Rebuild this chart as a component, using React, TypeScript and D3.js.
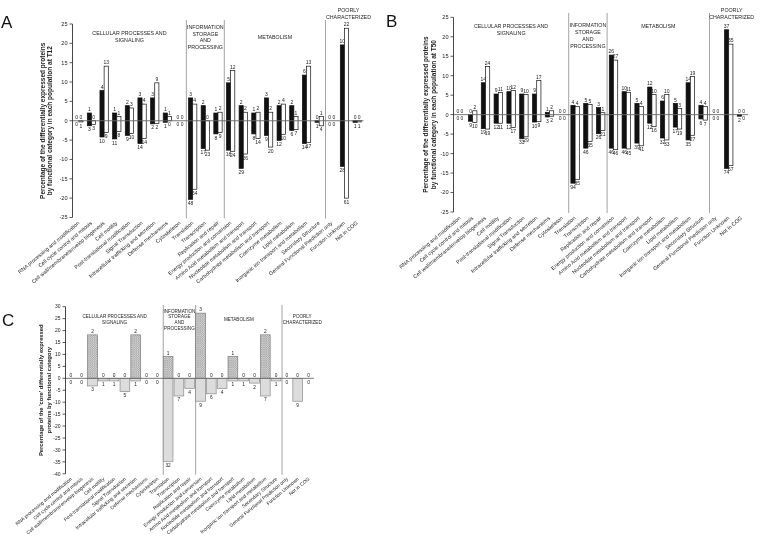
import React from 'react';
import * as d3 from 'd3';

const FONT = "'Liberation Sans', Arial, Helvetica, sans-serif";

const categories = [
  'RNA processing and modification',
  'Cell cycle control and mitosis',
  'Cell wall/membrane/envelop biogenesis',
  'Cell motility',
  'Post-translational modification',
  'Signal Transduction',
  'Intracellular trafficking and secretion',
  'Defense mechanisms',
  'Cytoskeleton',
  'Translation',
  'Transcription',
  'Replication and repair',
  'Energy production and conversion',
  'Amino Acid metabolism and transport',
  'Nucleotide metabolism and transport',
  'Carbohydrate metabolism and transport',
  'Coenzyme metabolism',
  'Lipid metabolism',
  'Inorganic ion transport and metabolism',
  'Secondary Structure',
  'General Functional Prediction only',
  'Function Unknown',
  'Not in COG',
];

const groupNames = [
  ['CELLULAR PROCESSES AND', 'SIGNALING'],
  ['INFORMATION', 'STORAGE', 'AND', 'PROCESSING'],
  ['METABOLISM'],
  ['POORLY', 'CHARACTERIZED'],
];
const groupStarts = [0, 9, 12, 20];
const groupEnds = [8, 11, 19, 22];

const yTicksAB = [25, 20, 15, 10, 5, 0, -5, -10, -15, -20, -25];
const yTicksC = [30, 25, 20, 15, 10, 5, 0, -5, -10, -15, -20, -25, -30, -35, -40];

// Panel A (T12) – percentages and counts
const aBlackUp = [0, 2.0, 7.8, 2.0, 3.9, 5.9, 5.9, 2.0, 0, 5.9, 3.9, 2.0, 9.8, 3.9, 2.0, 5.9, 3.9, 3.9, 11.8, 0, 0, 19.6, 0];
const aWhiteUp = [0, 0, 14.1, 1.1, 3.3, 4.3, 9.8, 1.1, 0, 4.3, 0, 2.2, 13.0, 2.2, 2.2, 2.2, 4.3, 1.1, 14.1, 1.1, 0, 23.9, 0];
const aBlackDown = [0, -1.3, -4.2, -4.7, -3.8, -5.9, -0.8, -0.4, 0, -20.3, -7.2, -3.4, -7.6, -12.3, -3.4, -3.8, -5.1, -2.5, -5.9, -0.4, 0, -11.8, -0.4];
const aWhiteDown = [-0.3, -1.0, -3.0, -2.8, -3.3, -4.6, -0.7, 0, 0, -17.7, -7.6, -3.0, -7.9, -8.6, -4.6, -6.8, -3.5, -2.3, -5.6, -1.3, 0, -20.0, -0.3];
const aBlackUpN = [0, 1, 4, 1, 2, 3, 3, 1, 0, 3, 2, 1, 5, 2, 1, 3, 2, 2, 6, 0, 0, 10, 0];
const aWhiteUpN = [0, 0, 13, 1, 3, 4, 9, 1, 0, 4, 0, 2, 12, 2, 2, 2, 4, 1, 13, 1, 0, 22, 0];
const aBlackDownN = [0, 3, 10, 11, 9, 14, 2, 1, 0, 48, 17, 8, 18, 29, 8, 9, 12, 6, 14, 1, 0, 28, 1];
const aWhiteDownN = [1, 3, 9, 8, 10, 14, 2, 0, 0, 54, 23, 9, 24, 26, 14, 20, 10, 7, 17, 4, 0, 61, 1];

// Panel B (T50)
const bBlackUp = [0, 0, 8.2, 5.3, 5.9, 5.3, 5.3, 0.6, 0, 2.4, 2.9, 1.8, 15.3, 5.9, 2.9, 7.1, 3.5, 2.9, 8.2, 2.4, 0, 21.8, 0];
const bWhiteUp = [0, 1.0, 12.4, 5.7, 6.2, 5.2, 8.8, 1.0, 0, 2.1, 2.6, 0.5, 14.0, 5.7, 2.1, 5.2, 5.2, 1.6, 9.8, 2.1, 0, 18.1, 0];
const bBlackDown = [0, -1.7, -3.6, -2.2, -2.2, -6.2, -1.9, -0.6, 0, -17.6, -8.6, -4.9, -8.6, -8.6, -7.3, -2.2, -6.0, -3.2, -6.5, -1.1, 0, -13.8, -0.4];
const bWhiteDown = [0, -2.0, -3.7, -2.2, -3.3, -5.7, -1.8, -0.4, 0, -16.7, -6.9, -4.1, -9.0, -8.8, -8.0, -3.1, -6.5, -3.7, -5.3, -1.4, 0, -13.1, 0];
const bBlackUpN = [0, 0, 14, 9, 10, 9, 9, 1, 0, 4, 5, 3, 26, 10, 5, 12, 6, 5, 14, 4, 0, 37, 0];
const bWhiteUpN = [0, 2, 24, 11, 12, 10, 17, 2, 0, 4, 5, 1, 27, 11, 4, 10, 10, 3, 19, 4, 0, 35, 0];
const bBlackDownN = [0, 9, 19, 12, 12, 33, 10, 3, 0, 94, 46, 26, 46, 46, 39, 12, 32, 17, 35, 6, 0, 74, 2];
const bWhiteDownN = [0, 10, 19, 11, 17, 29, 9, 2, 0, 85, 35, 21, 46, 45, 41, 16, 33, 19, 27, 7, 0, 67, 0];

// Panel C (core)
const cUp = [0, 0, 18.2, 0, 0, 0, 18.2, 0, 0, 9.1, 0, 0, 27.3, 0, 0, 9.1, 0, 0, 18.2, 0, 0, 0, 0];
const cDown = [0, 0, -3.2, -1.1, -1.1, -5.5, -1.1, 0, 0, -34.8, -7.4, -4.2, -9.6, -6.5, -4.2, -1.1, -1.1, -2.0, -7.4, -1.1, 0, -9.6, 0];
const cUpN = [0, 0, 2, 0, 0, 0, 2, 0, 0, 1, 0, 0, 3, 0, 0, 1, 0, 0, 2, 0, 0, 0, 0];
const cDownN = [0, 0, 3, 1, 1, 5, 1, 0, 0, 32, 7, 4, 9, 6, 4, 1, 1, 2, 7, 1, 0, 9, 0];

type Cfg = {
  letter: string; letterX: number; letterY: number;
  axisX: number; step: number; domain: [number, number]; range: [number, number];
  ticks: number[]; sepTop: number; tickFont: number; catFont: number; countFont: number;
  headerFont: number; headerLH: number; headerY: number[]; headerDx: number[];
  yLabel: string[]; yLabelX: number[]; yLabelFont: number; labelOffset: number;
};

function Frame({ cfg, x, y, children }: { cfg: Cfg; x: d3.ScaleBand<string>; y: d3.ScaleLinear<number, number>; children?: React.ReactNode }) {
  const step = cfg.step;
  const xEnd = cfg.axisX + categories.length * step;
  const yBottom = y(cfg.domain[0]);
  const yTop = y(cfg.domain[1]);
  const yMid = (yBottom + yTop) / 2;
  return (
    <g fontFamily={FONT}>
      <text x={cfg.letterX} y={cfg.letterY} fontSize={17} fill="#111">{cfg.letter}</text>
      {cfg.yLabel.map((t, i) => (
        <text key={i} transform={`translate(${cfg.yLabelX[i]},${yMid}) rotate(-90)`} textAnchor="middle"
          fontSize={cfg.yLabelFont} fontWeight="bold" fill="#222">{t}</text>
      ))}
      {groupStarts.slice(1).map((s, i) => {
        const sx = x(categories[s])!;
        return <line key={i} x1={sx} x2={sx} y1={cfg.sepTop} y2={yBottom + 1} stroke="#8c8c8c" strokeWidth={0.8} />;
      })}
      {groupNames.map((lines, gi) => {
        const cx = (x(categories[groupStarts[gi]])! + x(categories[groupEnds[gi]])! + step) / 2 + cfg.headerDx[gi];
        return lines.map((t, li) => (
          <text key={`${gi}-${li}`} x={cx} y={cfg.headerY[gi] + li * cfg.headerLH} textAnchor="middle"
            fontSize={cfg.headerFont} fill="#222">{t}</text>
        ));
      })}
      {children}
      <line x1={cfg.axisX} x2={xEnd} y1={y(0)} y2={y(0)} stroke="#666" strokeWidth={0.9} />
      <line x1={cfg.axisX} x2={cfg.axisX} y1={yTop} y2={yBottom} stroke="#333" strokeWidth={0.9} />
      {cfg.ticks.map((t) => (
        <g key={t}>
          <line x1={cfg.axisX - 3} x2={cfg.axisX} y1={y(t)} y2={y(t)} stroke="#333" strokeWidth={0.8} />
          <text x={cfg.axisX - 5} y={y(t)} dy="0.35em" textAnchor="end" fontSize={cfg.tickFont} fill="#222">{t}</text>
        </g>
      ))}
      {categories.map((c) => (
        <text key={c} transform={`translate(${x(c)! + step / 2},${yBottom + cfg.labelOffset}) rotate(-40)`}
          textAnchor="end" dy="0.3em" fontSize={cfg.catFont} fill="#222">{c}</text>
      ))}
    </g>
  );
}

function PairPanel({ cfg, bu, wu, bd, wd, bun, wun, bdn, wdn }: {
  cfg: Cfg; bu: number[]; wu: number[]; bd: number[]; wd: number[];
  bun: number[]; wun: number[]; bdn: number[]; wdn: number[];
}) {
  const x = d3.scaleBand<string>().domain(categories).range([cfg.axisX, cfg.axisX + categories.length * cfg.step]);
  const y = d3.scaleLinear().domain(cfg.domain).range(cfg.range);
  const bw = cfg.step * 0.33;
  return (
    <Frame cfg={cfg} x={x} y={y}>
      {categories.map((c, i) => {
        const cx = x(c)! + cfg.step / 2;
        const series = [
          { x0: cx - bw, up: bu[i], dn: bd[i], un: bun[i], dnN: bdn[i], fill: '#111' },
          { x0: cx, up: wu[i], dn: wd[i], un: wun[i], dnN: wdn[i], fill: '#fff' },
        ];
        return (
          <g key={c}>
            {series.map((s, k) => (
              <g key={k}>
                {(s.up !== 0 || s.dn !== 0) && (
                  <rect x={s.x0} width={bw} y={y(s.up)} height={Math.max(0.6, y(s.dn) - y(s.up))}
                    fill={s.fill} stroke="#111" strokeWidth={0.7} />
                )}
                <text x={s.x0 + bw / 2} y={y(s.up) - 1.8} textAnchor="middle" fontSize={cfg.countFont} fill="#222">{s.un}</text>
                <text x={s.x0 + bw / 2} y={y(s.dn) + 5.6} textAnchor="middle" fontSize={cfg.countFont} fill="#222">{s.dnN}</text>
              </g>
            ))}
          </g>
        );
      })}
    </Frame>
  );
}

function SinglePanel({ cfg, up, dn, upN, dnN }: { cfg: Cfg; up: number[]; dn: number[]; upN: number[]; dnN: number[] }) {
  const x = d3.scaleBand<string>().domain(categories).range([cfg.axisX, cfg.axisX + categories.length * cfg.step]).paddingInner(0.1).paddingOuter(0.05);
  const y = d3.scaleLinear().domain(cfg.domain).range(cfg.range);
  const bw = x.bandwidth();
  const y0 = y(0);
  return (
    <Frame cfg={cfg} x={x} y={y}>
      {categories.map((c, i) => {
        const x0 = x(c)!;
        return (
          <g key={c}>
            {up[i] > 0 && <rect x={x0} width={bw} y={y(up[i])} height={y0 - y(up[i])} fill="url(#hatch)" stroke="#7a7a7a" strokeWidth={0.7} />}
            {dn[i] < 0 && <rect x={x0} width={bw} y={y0} height={y(dn[i]) - y0} fill="#dcdcdc" stroke="#8a8a8a" strokeWidth={0.7} />}
            <text x={x0 + bw / 2} y={y(up[i]) - 1.8} textAnchor="middle" fontSize={cfg.countFont} fill="#222">{upN[i]}</text>
            <text x={x0 + bw / 2} y={y(dn[i]) + 5.5} textAnchor="middle" fontSize={cfg.countFont} fill="#222">{dnN[i]}</text>
          </g>
        );
      })}
    </Frame>
  );
}

const cfgA: Cfg = {
  letter: 'A', letterX: 1, letterY: 28,
  axisX: 72.5, step: 12.65, domain: [-25, 25], range: [217.5, 24], ticks: yTicksAB,
  sepTop: 20, tickFont: 5.6, catFont: 5.3, countFont: 5, headerFont: 5.3, headerLH: 6.8,
  headerY: [35, 28.7, 39, 12], headerDx: [0, 0, 0, 4],
  yLabel: ['Percentage of the differentially expressed proteins', 'by functional category in each population at T12'],
  yLabelX: [44.5, 52], yLabelFont: 6.5, labelOffset: 5,
};
const cfgB: Cfg = {
  letter: 'B', letterX: 386, letterY: 27,
  axisX: 453.5, step: 12.8, domain: [-25, 25], range: [212, 17.3], ticks: yTicksAB,
  sepTop: 13, tickFont: 5.6, catFont: 5.3, countFont: 5, headerFont: 5.3, headerLH: 7,
  headerY: [27.7, 27, 28, 12], headerDx: [0, 0, 0, 3],
  yLabel: ['Percentage of the differentially expressed proteins', 'by functional category in each population at T50'],
  yLabelX: [427.5, 435.5], yLabelFont: 6.5, labelOffset: 5.5,
};
const cfgC: Cfg = {
  letter: 'C', letterX: 2, letterY: 326,
  axisX: 65.5, step: 10.8, domain: [-40, 30], range: [473.8, 306.7], ticks: yTicksC,
  sepTop: 305, tickFont: 5, catFont: 4.9, countFont: 4.8, headerFont: 4.6, headerLH: 5.8,
  headerY: [318, 312.5, 321, 318], headerDx: [0, 0, 0, 4],
  yLabel: ["Percentage of the 'core' differentially expressed", 'proteins by functional category'],
  yLabelX: [42.5, 50.5], yLabelFont: 5.8, labelOffset: 4.5,
};

export default function App() {
  return (
    <svg width={768} height={543} viewBox="0 0 768 543"
      style={{ position: 'absolute', left: 0, top: 0, background: '#fff', willChange: 'transform' }}>
      <defs>
        <pattern id="hatch" width="2.2" height="2.2" patternUnits="userSpaceOnUse">
          <rect width="2.2" height="2.2" fill="#d6d6d6" />
          <path d="M0,0 L2.2,2.2 M2.2,0 L0,2.2" stroke="#9a9a9a" strokeWidth="0.5" />
        </pattern>
      </defs>
      <rect width={768} height={543} fill="#fff" />
      <PairPanel cfg={cfgA} bu={aBlackUp} wu={aWhiteUp} bd={aBlackDown} wd={aWhiteDown}
        bun={aBlackUpN} wun={aWhiteUpN} bdn={aBlackDownN} wdn={aWhiteDownN} />
      <PairPanel cfg={cfgB} bu={bBlackUp} wu={bWhiteUp} bd={bBlackDown} wd={bWhiteDown}
        bun={bBlackUpN} wun={bWhiteUpN} bdn={bBlackDownN} wdn={bWhiteDownN} />
      <SinglePanel cfg={cfgC} up={cUp} dn={cDown} upN={cUpN} dnN={cDownN} />
    </svg>
  );
}
